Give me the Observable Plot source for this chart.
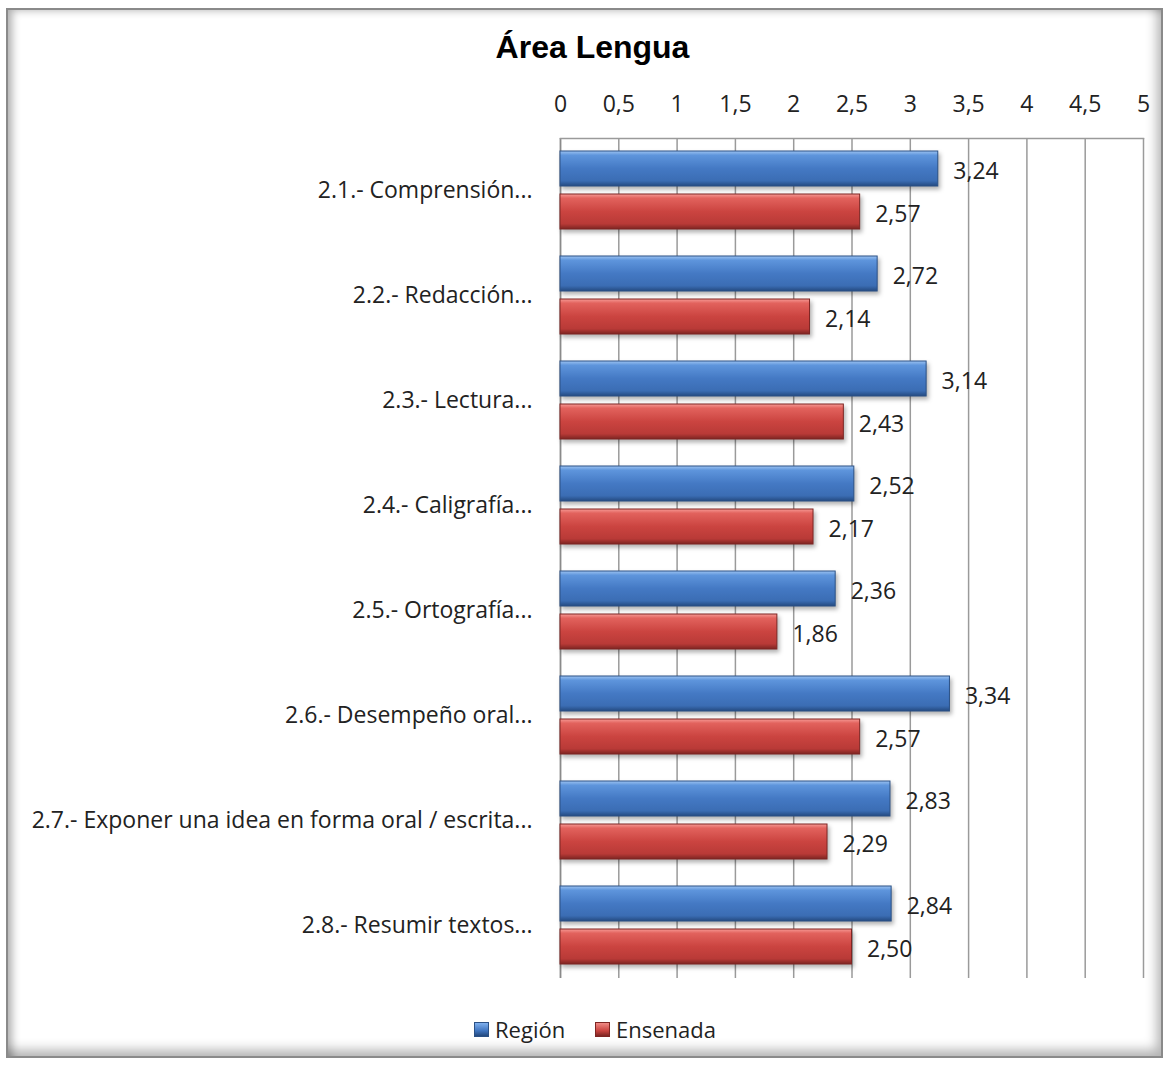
<!DOCTYPE html>
<html><head><meta charset="utf-8">
<script src="https://cdn.jsdelivr.net/npm/d3@7"></script>
<script src="https://cdn.jsdelivr.net/npm/@observablehq/plot@0.6"></script>
<style>
body{margin:0;background:#fff;}
#wrap{position:relative;width:1169px;height:1065px;overflow:hidden;font-family:"Open Sans",sans-serif;color:#222;}
#frame{position:absolute;left:6px;top:8px;width:1153px;height:1046px;border:2px solid #8a8a8a;
  box-shadow: inset 9px 5px 9px -5px rgba(0,0,0,0.32), inset -10px -12px 12px -6px rgba(0,0,0,0.3);}
#title{position:absolute;top:29px;left:8px;width:1169px;text-align:center;font-family:"Liberation Sans",Arial,sans-serif;font-weight:bold;font-size:32px;color:#000;}
#chart{position:absolute;top:68px;left:0;}
#legend{position:absolute;top:1014px;left:0;width:1169px;font-size:22px;}
.lg{position:absolute;display:flex;align-items:center;gap:6px;}
.sw{width:15px;height:15px;display:inline-block;}
.bars{filter:drop-shadow(2px 3px 2px rgba(0,0,0,0.3));}
</style></head>
<body>
<div id="wrap">
  <div id="frame"></div>
  <div id="title">Área Lengua</div>
  <div id="chart"></div>
  <div id="legend"></div>
</div>
<script>
const categories = [
  "2.1.- Comprensión...",
  "2.2.- Redacción...",
  "2.3.- Lectura...",
  "2.4.- Caligrafía...",
  "2.5.- Ortografía...",
  "2.6.- Desempeño oral...",
  "2.7.- Exponer una idea en forma oral / escrita...",
  "2.8.- Resumir textos..."
];
const seriesNames = ["Región", "Ensenada"];
const region = [3.24, 2.72, 3.14, 2.52, 2.36, 3.34, 2.83, 2.84];
const ensenada = [2.57, 2.14, 2.43, 2.17, 1.86, 2.57, 2.29, 2.50];
const xTicks = [0, 0.5, 1, 1.5, 2, 2.5, 3, 3.5, 4, 4.5, 5];

const rows = [];
categories.forEach((c, i) => {
  rows.push({cat: c, series: seriesNames[0], value: region[i]});
  rows.push({cat: c, series: seriesNames[1], value: ensenada[i]});
});
const fmt = v => String(v).replace(".", ",");
const fmt2 = v => d3.format(".2f")(v).replace(".", ",");

const plot = Plot.plot({
  width: 1169,
  height: 922,
  marginTop: 69,
  marginBottom: 12,
  marginLeft: 560,
  marginRight: 26,
  style: {fontFamily: "'Open Sans', sans-serif", fontSize: "23px", color: "#222", background: "transparent"},
  facet: {data: rows, y: "cat", label: null},
  fy: {domain: categories, padding: 0, axis: "left", tickSize: 0, tickPadding: 28, label: null},
  x: {domain: [0, 5], axis: "top", ticks: 10, tickFormat: fmt, tickSize: 0, tickPadding: 27, label: null},
  y: {domain: seriesNames, axis: null, paddingInner: 0.18, paddingOuter: 0.3},
  marks: [
    Plot.ruleX(xTicks, {stroke: "#9a9a9a", strokeWidth: 1.5}),
    Plot.ruleX([0], {stroke: "#8a8a8a", strokeWidth: 1.5}),
    Plot.frame({anchor: "top", facet: "super", stroke: "#9a9a9a", strokeWidth: 1.5}),
    Plot.barX(rows, {filter: d => d.series === seriesNames[0], x: "value", y: "series", fill: "url(#gBlue)", stroke: "#2b5186", strokeWidth: 1, className: "bars"}),
    Plot.barX(rows, {filter: d => d.series === seriesNames[1], x: "value", y: "series", fill: "url(#gRed)", stroke: "#7e2523", strokeWidth: 1, className: "bars"}),
    Plot.text(rows, {x: "value", y: "series", text: d => fmt2(d.value), textAnchor: "start", dx: 15, dy: 3, fill: "#222", fontSize: 23})
  ]
});

const ns = "http://www.w3.org/2000/svg";
const defs = document.createElementNS(ns, "defs");
function grad(id, stops) {
  const g = document.createElementNS(ns, "linearGradient");
  g.setAttribute("id", id);
  g.setAttribute("x1", "0"); g.setAttribute("y1", "0"); g.setAttribute("x2", "0"); g.setAttribute("y2", "1");
  stops.forEach(([o, c]) => {
    const s = document.createElementNS(ns, "stop");
    s.setAttribute("offset", o); s.setAttribute("stop-color", c);
    g.appendChild(s);
  });
  defs.appendChild(g);
}
grad("gBlue", [["0", "#9cc3f2"], ["0.12", "#5e95dc"], ["0.5", "#4479c4"], ["0.85", "#3b6db4"], ["1", "#244a80"]]);
grad("gRed", [["0", "#f69a95"], ["0.12", "#e2625d"], ["0.5", "#cb4440"], ["0.85", "#b93a37"], ["1", "#7d2522"]]);
plot.insertBefore(defs, plot.firstChild);
document.getElementById("chart").appendChild(plot);

const legend = document.getElementById("legend");
[[seriesNames[0], "blue", 474], [seriesNames[1], "red", 595]].forEach(([name, g, left]) => {
  const item = document.createElement("div");
  item.className = "lg";
  item.style.left = left + "px";
  const sw = document.createElement("span");
  sw.className = "sw";
  sw.style.background = g === "blue"
    ? "linear-gradient(#7fb0ee, #3f74bf 60%, #24497e)"
    : "linear-gradient(#f08a85, #c9433f 60%, #7d2522)";
  sw.style.border = "1px solid " + (g === "blue" ? "#2b5186" : "#7e2523");
  sw.style.boxSizing = "border-box";
  const t = document.createElement("span");
  t.textContent = name;
  item.appendChild(sw); item.appendChild(t);
  legend.appendChild(item);
});
</script>
</body></html>
